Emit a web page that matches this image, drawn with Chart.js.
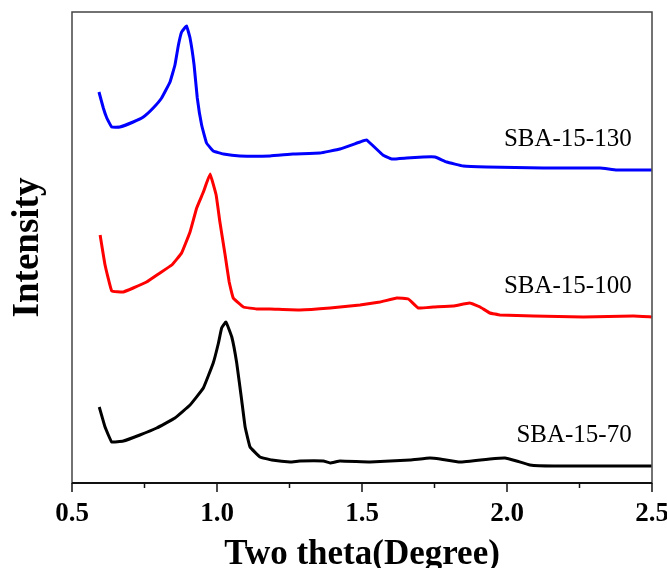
<!DOCTYPE html>
<html lang="en">
  <head>
    <meta charset="UTF-8" />
    <title>SBA-15 small-angle XRD</title>
    <script src="https://cdn.jsdelivr.net/npm/chart.js"></script>
    <style>
      html, body {
        margin: 0;
        padding: 0;
        background: #fff;
        overflow: hidden;
      }
      #wrap {
        width: 685px;
        height: 580px;
      }
    </style>
  </head>
  <body>
    <div id="wrap"><canvas id="xrd" width="685" height="580"></canvas></div>

    <script>
      // sample names, top to bottom
      const sampleNames = ["SBA-15-130", "SBA-15-100", "SBA-15-70"];

      // SBA-15-130 (blue)
      const theta130 = [0.593, 0.608, 0.620, 0.637, 0.665, 0.711, 0.746, 0.780, 0.809, 0.838, 0.855, 0.867, 0.878, 0.895, 0.907, 0.921, 0.932, 0.947, 0.964, 0.987, 1.022, 1.079, 1.183, 1.262, 1.355, 1.424, 1.493, 1.516, 1.572, 1.602, 1.654, 1.711, 1.752, 1.792, 1.849, 1.930, 2.125, 2.321, 2.378, 2.499];
      const int130 = [391, 375, 365, 356, 356, 361, 366, 375, 385, 401, 418, 438, 451, 457, 445, 418, 385, 358, 340, 332, 329, 327, 327, 329, 330, 334, 341, 343, 328, 324, 325, 326, 326, 321, 317, 316, 315, 315, 313, 313];

      // SBA-15-100 (red)
      const theta100 = [0.597, 0.614, 0.637, 0.677, 0.711, 0.757, 0.803, 0.844, 0.878, 0.907, 0.930, 0.953, 0.976, 0.997, 1.010, 1.028, 1.042, 1.056, 1.091, 1.137, 1.183, 1.286, 1.390, 1.493, 1.562, 1.620, 1.660, 1.694, 1.746, 1.815, 1.872, 1.907, 1.941, 1.976, 2.091, 2.263, 2.436, 2.499];
      const int100 = [248, 218, 192, 191, 195, 201, 210, 218, 230, 251, 275, 291, 309, 288, 261, 228, 201, 185, 176, 174, 174, 173, 175, 178, 181, 185, 184, 175, 176, 177, 180, 176, 170, 168, 167, 166, 167, 166];

      // SBA-15-70 (black)
      const theta70 = [0.594, 0.614, 0.637, 0.677, 0.734, 0.792, 0.855, 0.907, 0.953, 0.987, 1.005, 1.016, 1.031, 1.051, 1.068, 1.085, 1.097, 1.114, 1.148, 1.189, 1.252, 1.286, 1.367, 1.390, 1.424, 1.528, 1.666, 1.734, 1.769, 1.838, 1.941, 1.993, 2.033, 2.079, 2.160, 2.499];
      const int70 = [76, 56, 41, 42, 48, 55, 65, 78, 95, 120, 140, 155, 161, 146, 120, 83, 56, 36, 26, 23, 21, 22, 22, 20, 22, 21, 23, 25, 24, 21, 24, 25, 22, 18, 17, 17];

      // axis ticks
      const xTicks = [0.5, 1.0, 1.5, 2.0, 2.5];

      const serif = "'Liberation Serif', 'Times New Roman', serif";
      const toPoints = (xs, ys) => xs.map((x, i) => ({ x: x, y: ys[i] }));

      // frame, outward ticks and sample names
      const decorations = {
        id: "decorations",
        afterDatasetsDraw(chart) {
          const { ctx, chartArea: a, scales } = chart;
          const xs = scales.x;
          const ys = scales.y;
          ctx.save();

          // box
          ctx.strokeStyle = "#444";
          ctx.lineWidth = 1.5;
          ctx.strokeRect(a.left, a.top, a.right - a.left, a.bottom - a.top);
          ctx.strokeStyle = "#111";
          ctx.lineWidth = 2;
          ctx.beginPath();
          ctx.moveTo(a.left, a.bottom);
          ctx.lineTo(a.right, a.bottom);
          ctx.stroke();

          // ticks, major + minor
          ctx.lineWidth = 1.5;
          for (let i = 0; i < xTicks.length; i++) {
            const px = xs.getPixelForValue(xTicks[i]);
            ctx.beginPath();
            ctx.moveTo(px, a.bottom);
            ctx.lineTo(px, a.bottom + 9);
            ctx.stroke();
            if (i < xTicks.length - 1) {
              const mx = xs.getPixelForValue((xTicks[i] + xTicks[i + 1]) / 2);
              ctx.beginPath();
              ctx.moveTo(mx, a.bottom);
              ctx.lineTo(mx, a.bottom + 5);
              ctx.stroke();
            }
          }

          // labels sit just above the right end of each trace
          ctx.font = "25px " + serif;
          ctx.fillStyle = "#000";
          ctx.textAlign = "right";
          ctx.textBaseline = "middle";
          chart.data.datasets.forEach((ds) => {
            const last = ds.data[ds.data.length - 1];
            ctx.fillText(ds.label, xs.getPixelForValue(xs.max - 0.07), ys.getPixelForValue(last.y + 31));
          });
          ctx.restore();
        },
      };

      new Chart(document.getElementById("xrd"), {
        type: "line",
        data: {
          datasets: [
            { label: sampleNames[0], data: toPoints(theta130, int130), borderColor: "#0000ff" },
            { label: sampleNames[1], data: toPoints(theta100, int100), borderColor: "#ff0000" },
            { label: sampleNames[2], data: toPoints(theta70, int70), borderColor: "#000000" },
          ],
        },
        options: {
          responsive: false,
          animation: false,
          layout: { padding: { top: 12, left: 0, right: 33, bottom: 0 } },
          elements: {
            line: { borderWidth: 3, tension: 0.08, fill: false },
            point: { radius: 0 },
          },
          plugins: {
            legend: { display: false },
            tooltip: { enabled: false },
          },
          scales: {
            x: {
              type: "linear",
              min: 0.5,
              max: 2.5,
              afterBuildTicks: (scale) => {
                scale.ticks = xTicks.map((v) => ({ value: v }));
              },
              afterFit: (scale) => {
                scale.height = 97;
              },
              grid: { display: false },
              border: { display: false },
              ticks: {
                color: "#000",
                padding: 7,
                maxRotation: 0,
                font: { family: serif, size: 27, weight: "bold" },
                callback: (v) => Number(v).toFixed(1),
              },
              title: {
                display: true,
                text: "Two theta(Degree)",
                color: "#000",
                padding: { top: 0, bottom: 4 },
                font: { family: serif, size: 35, weight: "bold" },
              },
            },
            y: {
              min: 0,
              max: 471,
              afterFit: (scale) => {
                scale.width = 72;
              },
              grid: { display: false },
              border: { display: false },
              ticks: { display: false },
              title: {
                display: true,
                text: "Intensity",
                color: "#000",
                padding: { top: 6, bottom: 0 },
                font: { family: serif, size: 37, weight: "bold" },
              },
            },
          },
        },
        plugins: [decorations],
      });
    </script>
  </body>
</html>
